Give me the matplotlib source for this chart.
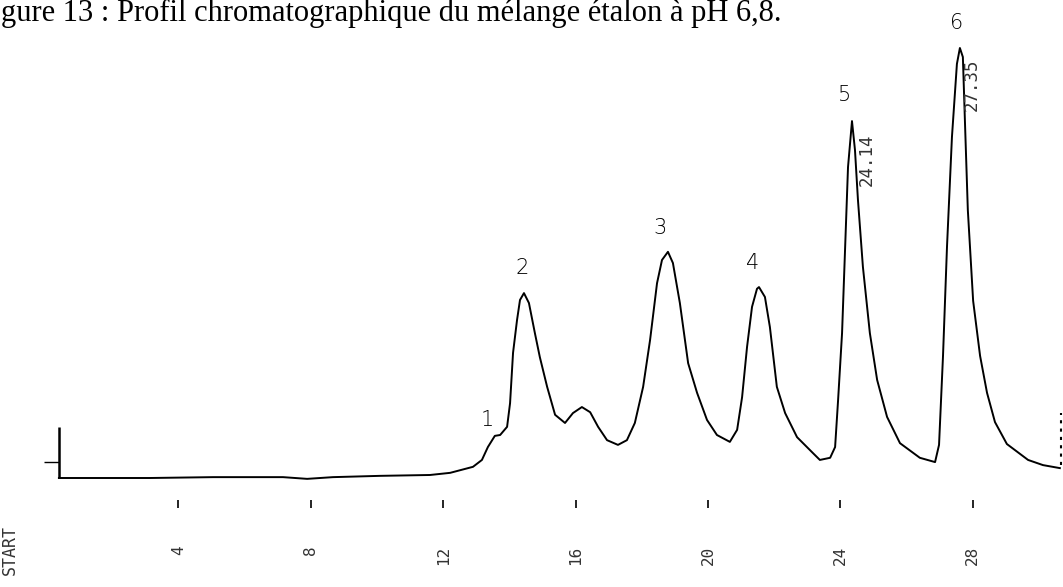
import matplotlib
matplotlib.use("Agg")
import matplotlib.pyplot as plt

# chromatogram trace (time in min, signal in % of largest peak)
time_min = [0.39, 3.14, 5.05, 7.16, 7.89, 8.67, 10.09, 11.60, 12.21, 12.90,
            13.17, 13.35, 13.56, 13.72, 13.93, 14.02, 14.11, 14.23, 14.32, 14.44,
            14.59, 14.77, 14.92, 15.14, 15.38, 15.68, 15.92, 16.19, 16.44, 16.68,
            16.95, 17.28, 17.55, 17.79, 18.04, 18.25, 18.46, 18.61, 18.79, 18.94,
            19.15, 19.40, 19.67, 19.97, 20.27, 20.66, 20.88, 21.03, 21.18, 21.33,
            21.48, 21.54, 21.72, 21.87, 22.08, 22.33, 22.69, 23.17, 23.38, 23.69,
            23.84, 23.93, 24.05, 24.14, 24.23, 24.35, 24.44, 24.53, 24.68, 24.89,
            25.11, 25.41, 25.80, 26.40, 26.86, 26.98, 27.10, 27.22, 27.37, 27.52,
            27.61, 27.70, 27.76, 27.85, 28.01, 28.22, 28.43, 28.67, 29.03, 29.67,
            30.12, 30.63]
signal = [0.0, 0.0, 0.2, 0.2, -0.2, 0.2, 0.5, 0.7, 1.2, 2.6,
          4.2, 7.2, 9.8, 10.0, 11.9, 17.4, 29.1, 36.7, 41.4, 43.0,
          40.7, 33.7, 28.1, 21.2, 14.7, 12.8, 15.1, 16.5, 15.3, 11.9,
          8.8, 7.7, 8.8, 12.8, 21.2, 32.1, 45.3, 50.7, 52.6, 50.0,
          40.7, 26.7, 19.8, 13.5, 10.0, 8.4, 11.2, 18.8, 30.5, 39.8,
          44.0, 44.4, 42.1, 35.1, 21.2, 15.1, 9.5, 5.8, 4.2, 4.7,
          7.2, 18.1, 33.7, 53.0, 72.3, 83.0, 76.3, 64.7, 49.1, 33.7,
          22.8, 14.2, 8.1, 4.7, 3.7, 7.7, 28.4, 53.7, 79.3, 96.3,
          100.0, 97.9, 83.5, 62.3, 41.2, 28.4, 19.8, 13.0, 7.9, 4.2,
          3.0, 2.3]

tick_times = [4, 8, 12, 16, 20, 24, 28]
tick_labels = ['4', '8', '12', '16', '20', '24', '28']

# handwritten peak numbers
peak_names = ['1', '2', '3', '4', '5', '6']
peak_name_t = [13.32, 14.38, 18.55, 21.36, 24.14, 27.52]
peak_name_s = [13.5, 48.8, 58.1, 50.0, 89.1, 105.8]

# printed retention times
rt_labels = ['24.14', '27.35']
rt_t = [24.8, 27.98]
rt_s = [74.0, 91.5]

start_t = 0.39
start_s = [0.0, 11.9]
zero_mark_s = 3.7
stop_t = 30.66
stop_s = [3.0, 15.1]

fig = plt.figure(figsize=(10.63, 5.87), dpi=100)
ax = fig.add_axes([0, 79 / 587, 1, 508 / 587])

ax.plot(time_min, signal, color='black', linewidth=1.4)
ax.vlines(start_t, start_s[0], start_s[1], color='black', linewidth=1.8)
ax.hlines(zero_mark_s, start_t - 0.45, start_t, color='black', linewidth=1.0)
ax.vlines(stop_t, stop_s[0], stop_s[1], color='black', linewidth=1.5,
          linestyles=(0, (1.5, 2.5)))

for name, t, s in zip(peak_names, peak_name_t, peak_name_s):
    ax.text(t, s, name, ha='center', va='center', fontsize=15,
            family='DejaVu Sans', fontweight='light')

for lab, t, s in zip(rt_labels, rt_t, rt_s):
    ax.text(t, s, lab, ha='center', va='center', rotation=90, fontsize=12.5,
            family='DejaVu Sans Mono', color='#333333')

ax.set_xlim(-46 / 33.1, (1063 - 46) / 33.1)
ax.set_ylim((478 - 508) / 4.3, 478 / 4.3)

ax.set_xticks(tick_times)
ax.set_xticklabels(tick_labels, rotation=90, va='top', ha='center',
                   family='DejaVu Sans Mono', fontsize=11.5, color='#333333')
ax.tick_params(axis='x', direction='in', length=6, width=1.2, pad=27,
               color='black')
ax.set_yticks([])
for sp in ax.spines.values():
    sp.set_visible(False)
ax.patch.set_alpha(0)

fig.text(10 / 1063, 1 - 550 / 587, 'START', rotation=90, ha='center',
         va='center', fontsize=12, family='DejaVu Sans Mono', color='#333333')

fig.text(0.001, 1 - 21 / 587,
         'gure 13 : Profil chromatographique du mélange étalon à pH 6,8.',
         ha='left', va='baseline', fontsize=22, family='Liberation Serif')

fig.savefig('out.png', dpi=100)
